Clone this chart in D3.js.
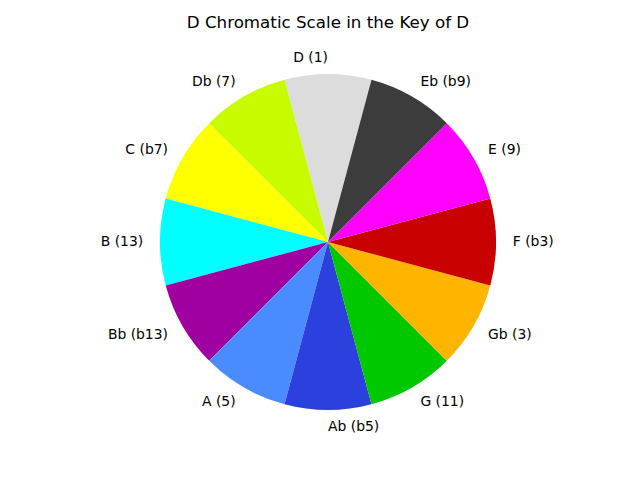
<!DOCTYPE html>
<html lang="en">
	<head>
		<meta charset="utf-8">
		<title>D Chromatic Scale</title>
		<script type="text/javascript" src="https://cdn.jsdelivr.net/npm/d3@7"></script>
		<style>
		body { margin: 0; background: white; }
		</style>
	</head>
	<body>
		<script type="text/javascript">
			var w = 640;
			var h = 480;

			// slices in matplotlib (counter-clockwise) order, starting at top
			var notes = ["D (1)", "Db (7)", "C (b7)", "B (13)", "Bb (b13)", "A (5)",
				"Ab (b5)", "G (11)", "Gb (3)", "F (b3)", "E (9)", "Eb (b9)"];
			var values = [1, 1, 1, 1, 1, 1, 1, 1, 1, 1, 1, 1];
			var colors = ["#dcdcdc", "#c8fa00", "#ffff00", "#00ffff", "#a0009f", "#4a8cff",
				"#2b40dd", "#00c800", "#ffb400", "#c80000", "#ff00ff", "#3c3c3c"];

			var cx = 328, cy = 242, r = 168;

			var svg = d3.select("body").append("svg")
				.attr("width", w)
				.attr("height", h);

			svg.append("text")
				.attr("x", 328)
				.attr("y", 28)
				.attr("text-anchor", "middle")
				.attr("font-family", "DejaVu Sans")
				.attr("font-size", "16.7px")
				.text("D Chromatic Scale in the Key of D");

			var pie = d3.pie().sort(null)
				.startAngle(Math.PI / 12)
				.endAngle(Math.PI / 12 - 2 * Math.PI);

			var arcs = pie(values);
			var arc = d3.arc().innerRadius(0).outerRadius(r);

			var g = svg.append("g").attr("transform", "translate(" + cx + "," + cy + ")");

			g.selectAll("path").data(arcs)
				.enter().append("path")
				.attr("d", arc)
				.attr("fill", function(d, i) { return colors[i]; });

			function mid(d) { return (d.startAngle + d.endAngle) / 2; }

			g.selectAll("text").data(arcs)
				.enter().append("text")
				.attr("x", function(d) { return 1.1 * r * Math.sin(mid(d)); })
				.attr("y", function(d) { return -1.1 * r * Math.cos(mid(d)); })
				.attr("dy", "0.32em")
				.attr("text-anchor", function(d) {
					var s = Math.sin(mid(d));
					if (Math.abs(s) < 1e-9) return Math.cos(mid(d)) > 0 ? "end" : "start";
					return s > 0 ? "start" : "end";})
				.attr("font-family", "DejaVu Sans")
				.attr("font-size", "13.9px")
				.text(function(d, i) { return notes[i]; });
		</script>
	</body>
</html>
